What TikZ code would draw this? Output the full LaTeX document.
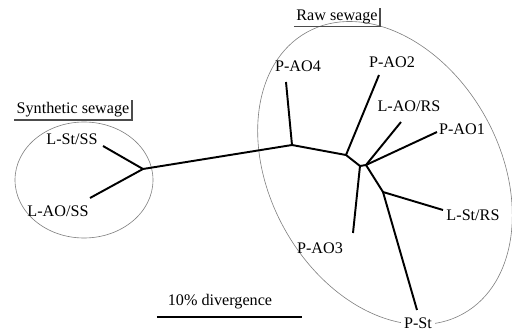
\documentclass[tikz,border=0pt]{standalone}
\usepackage{fontspec}
\setmainfont{Liberation Serif}
\usepackage{tikz}

\tikzset{branch/.style={line width=1.1pt},
  group/.style={draw=gray,line width=0.35pt},
  boxed/.style={inner sep=1.2pt},
  shadowline/.style={draw=gray!60!black,line width=1.1pt}}

\begin{document}
\begin{tikzpicture}[x=0.02cm,y=0.02cm,font=\fontsize{9.2}{11}\selectfont]
  \useasboundingbox (0,0) rectangle (512,332);
  % clusters
  \draw[group] (84,152) ellipse [x radius=69,y radius=58];
  \draw[group,rotate around={-61:(385,159)}] (385,159) ellipse [x radius=161,y radius=115];
  \draw (73,222) node[boxed] (synth) {Synthetic sewage};
  \draw[shadowline] (synth.south west) -- (synth.south east) -- (synth.north east);
  \draw (337,315) node[boxed] (raw) {Raw sewage};
  \draw[shadowline] (raw.south west) -- (raw.south east) -- (raw.north east);
  % inner nodes
  \coordinate (jL) at (143,163);
  \coordinate (j4) at (292,187);
  \coordinate (j2) at (346,177);
  \coordinate (j3) at (360,166);
  \coordinate (j5) at (366,167);
  \coordinate (j6) at (383,140);
  % leaf ends
  \coordinate (eLStSS) at (103,186);
  \coordinate (eLAOSS) at (90,134);
  \coordinate (ePAO4) at (286,250);
  \coordinate (ePAO2) at (379,257);
  \coordinate (eLAORS) at (401,210);
  \coordinate (ePAO1) at (437,200);
  \coordinate (ePAO3) at (353,99);
  \coordinate (eLStRS) at (443,122);
  \coordinate (ePSt) at (417,22);
  % labels
  \draw (72,193) node (LStSS) {L-St/SS};
  \draw (58,121) node (LAOSS) {L-AO/SS};
  \draw (298,266) node (PAO4) {P-AO4};
  \draw (392,270) node (PAO2) {P-AO2};
  \draw (409,226) node (LAORS) {L-AO/RS};
  \draw (462,203) node (PAO1) {P-AO1};
  \draw (473,117) node (LStRS) {L-St/RS};
  \draw (320,84) node (PAO3) {P-AO3};
  \draw (418,9) node[fill=white,inner sep=1.5pt] (PSt) {P-St};
  % tree
  \path[branch] (jL) edge (eLStSS) edge (eLAOSS) edge (j4);
  \path[branch] (j4) edge (ePAO4) edge (j2);
  \path[branch] (j2) edge (ePAO2) edge (j3);
  \path[branch] (j3) edge (ePAO3) edge (j5);
  \path[branch] (j5) edge (eLAORS) edge (ePAO1) edge (j6);
  \path[branch] (j6) edge (eLStRS) edge (ePSt);
  % scale bar
  \draw (220,30) node (scale) {10\% divergence};
  \coordinate (barL) at (157,15);
  \coordinate (barR) at (302,15);
  \draw[line width=0.8pt] (barL) -- (barR);
\end{tikzpicture}
\end{document}
